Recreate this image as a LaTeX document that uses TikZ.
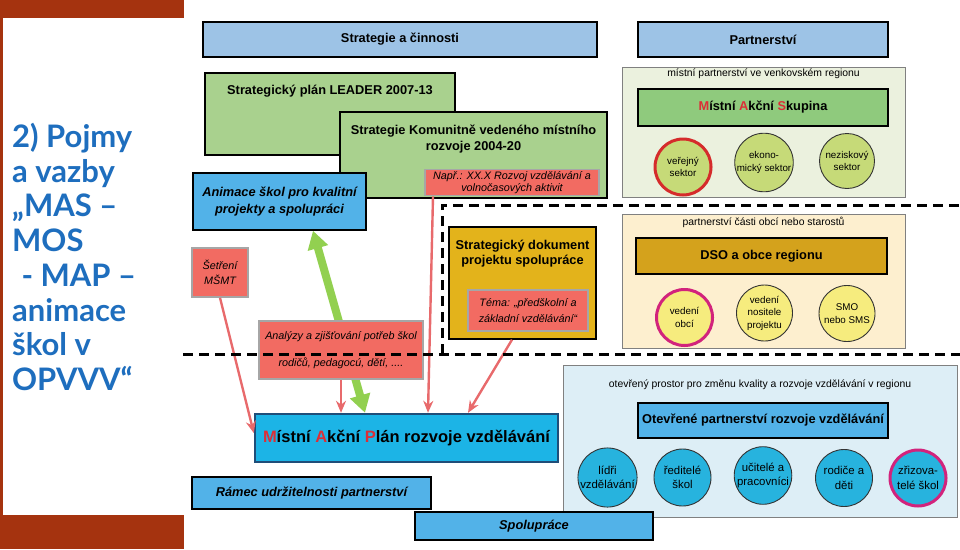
\documentclass[tikz,border=0pt]{standalone}
\usepackage{fontspec}
\setmainfont{Liberation Sans}
\newfontfamily\titlefont{Lato}
\usetikzlibrary{arrows.meta,backgrounds}

\definecolor{rust}{HTML}{A5330F}
\definecolor{titleblue}{HTML}{1E6EBE}
\definecolor{hdrblue}{HTML}{9DC3E6}
\definecolor{leafgreen}{HTML}{A9D18E}
\definecolor{salmon}{HTML}{F26B62}
\definecolor{skyblue}{HTML}{52B2E8}
\definecolor{gold}{HTML}{E3B31B}
\definecolor{cyanmap}{HTML}{1CB4E6}
\definecolor{mapborder}{HTML}{1F4E79}
\definecolor{arrowred}{HTML}{E86A6C}
\definecolor{arrowgreen}{HTML}{92D050}
\definecolor{panelgreen}{HTML}{EBF1DE}
\definecolor{panelcream}{HTML}{FDEFCF}
\definecolor{panelblue}{HTML}{DDEEF6}
\definecolor{masgreen}{HTML}{8FCA7D}
\definecolor{dsogold}{HTML}{D4A21C}
\definecolor{olive}{HTML}{C6DA78}
\definecolor{lemon}{HTML}{F6EC7E}
\definecolor{cyancirc}{HTML}{27B3DE}
\definecolor{ringred}{HTML}{D52B2B}
\definecolor{ringpink}{HTML}{D2237C}
\definecolor{letterred}{HTML}{DD2E36}

\newcommand\fsHead{\fontsize{12.8}{15.5}\selectfont\bfseries}
\newcommand\fsNote{\fontsize{10.8}{12.5}\selectfont\itshape}
\newcommand\fsPanel{\fontsize{10.4}{12}\selectfont}
\newcommand\fsRing{\fontsize{9.8}{12.5}\selectfont}
\newcommand\fsRingB{\fontsize{11.4}{14.5}\selectfont}
\newcommand\fsMap{\fontsize{16.5}{19}\selectfont\bfseries}
\newcommand\rd[1]{\textcolor{letterred}{#1}}

\begin{document}
\begin{tikzpicture}[x=1pt,y=-1pt,
  box/.style={draw=black,line width=1.4pt,inner sep=0pt,align=center},
  note/.style={draw=black!35,line width=1.6pt,fill=salmon,inner sep=0pt,align=center,font=\fsNote},
  panel/.style={draw=black!50,line width=0.8pt,inner sep=0pt},
  ring/.style={circle,draw=black!80,line width=0.9pt,inner sep=0pt,align=center},
  redarrow/.style={draw=arrowred,line width=2.4pt,-{Stealth[length=12pt,width=10pt]}},
  divider/.style={draw=black,line width=3pt,dash pattern=on 10pt off 6pt}]
\useasboundingbox (0,0) rectangle (960,549);
\fill[rust] (0,0) rectangle (184,549);
\fill[white] (3,18) rectangle (184,515);

\node[anchor=north west,inner sep=0pt,align=left,text=titleblue,
  font=\titlefont\bfseries\fontsize{31}{34.7}\selectfont] (title) at (12,123)
  {2) Pojmy\\a vazby\\„MAS –\\MOS\\\hspace*{0.3em}- MAP –\\animace\\škol v\\OPVVV“};

\node[box,fill=hdrblue,minimum width=394pt,minimum height=35pt,font=\fsHead] (strat) at (400,39.5) {Strategie a činnosti};
\node[box,fill=hdrblue,minimum width=250pt,minimum height=35pt,font=\fsHead] (partner) at (763,39.5) {Partnerství};

% partnerstvi
\node[panel,fill=panelgreen,minimum width=283pt,minimum height=130pt,
  label={[anchor=center,yshift=-7pt,font=\fsPanel]north:{místní partnerství ve venkovském regionu}}] (rural) at (763.5,132) {};
\node[box,fill=masgreen,minimum width=250pt,minimum height=37pt,font=\fsHead] (mas) at (763,107.5) {\rd{M}ístní \rd{A}kční \rd{S}kupina};
\node[ring,fill=olive,draw=ringred,line width=3pt,minimum size=56pt,font=\fsRing] (verejny) at (683,167) {veřejný\\sektor};
\node[ring,fill=olive,minimum size=56pt,font=\fsRing] (ekonom) at (764,162.5) {ekono-\\mický sektor};
\node[ring,fill=olive,minimum size=55pt,font=\fsRing] (nezisk) at (847,161) {neziskový\\sektor};

\node[panel,fill=panelcream,minimum width=283pt,minimum height=134pt,
  label={[anchor=center,yshift=-9pt,font=\fsPanel]north:{partnerství části obcí nebo starostů}}] (obce) at (763.5,281) {};
\node[box,fill=dsogold,minimum width=251pt,minimum height=36pt,font=\fsHead] (dso) at (761.5,256) {DSO a obce regionu};
\node[ring,fill=lemon,draw=ringpink,line width=3pt,minimum size=56pt,font=\fsRing] (vedobci) at (684.5,317.5) {vedení\\obcí};
\node[ring,fill=lemon,minimum size=56pt,font=\fsRing] (nositel) at (764.5,313) {vedení\\nositele\\projektu};
\node[ring,fill=lemon,minimum size=56pt,font=\fsRing] (smo) at (847,313.5) {SMO\\nebo SMS};

\node[panel,fill=panelblue,minimum width=394pt,minimum height=152pt,
  label={[anchor=center,yshift=-20pt,font=\fsPanel]north:{otevřený prostor pro změnu kvality a rozvoje vzdělávání v regionu}}] (prostor) at (760,441) {};
\node[box,fill=skyblue,minimum width=250pt,minimum height=35pt,font=\fsHead] (oprv) at (763,420.5) {Otevřené partnerství rozvoje vzdělávání};
\node[ring,fill=cyancirc,minimum size=57pt,font=\fsRingB] (lidri) at (607.5,477.5) {lídři\\vzdělávání};
\node[ring,fill=cyancirc,minimum size=57pt,font=\fsRingB] (reditele) at (682.5,477.5) {ředitelé\\škol};
\node[ring,fill=cyancirc,minimum size=57pt,font=\fsRingB] (ucitele) at (763,475.5) {učitelé a\\pracovníci};
\node[ring,fill=cyancirc,minimum size=57pt,font=\fsRingB] (rodice) at (844,478) {rodiče a\\děti};
\node[ring,fill=cyancirc,draw=ringpink,line width=3pt,minimum size=56pt,font=\fsRingB] (zrizov) at (918,478) {zřizova-\\telé škol};

% strategie
\node[box,fill=leafgreen,minimum width=250pt,minimum height=82pt,
  label={[anchor=center,yshift=-19pt,font=\fsHead]north:{Strategický plán LEADER 2007-13}}] (leader) at (330,114) {};
\node[box,fill=leafgreen,minimum width=267pt,minimum height=86pt,
  label={[anchor=center,yshift=-27.5pt,font=\fsHead,align=center]north:{Strategie Komunitně vedeného místního\\rozvoje 2004-20}}] (clld) at (473.5,155) {};
\node[note,minimum width=174pt,minimum height=26pt] (napr) at (512,182.5) {Např.: XX.X Rozvoj vzdělávání a\\volnočasových aktivit};
\node[box,fill=skyblue,minimum width=173pt,minimum height=57pt,font=\fsHead\itshape] (animace) at (279.5,201.5) {Animace škol pro kvalitní\\[1.5pt]projekty a spolupráci};
\node[note,minimum width=56pt,minimum height=49pt] (setreni) at (220,272.5) {Šetření\\[2.5pt]MŠMT};
\node[note,minimum width=164pt,minimum height=58pt] (analyzy) at (341,350) {Analýzy a zjišťování potřeb škol\\[14pt]rodičů, pedagocú, dětí, ....};
\node[box,fill=gold,minimum width=147pt,minimum height=112pt,
  label={[anchor=center,yshift=-27.5pt,font=\fsHead,align=center]north:{Strategický dokument\\projektu spolupráce}}] (dok) at (522.5,283) {};
\node[note,minimum width=120pt,minimum height=41pt] (tema) at (528,310.5) {Téma: „předškolní a\\[3pt]základní vzdělávání“};

\node[box,draw=mapborder,line width=2.4pt,fill=cyanmap,minimum width=303pt,minimum height=48pt,font=\fsMap] (map) at (406.5,438) {\rd{M}ístní \rd{A}kční \rd{P}lán rozvoje vzdělávání};
\node[box,fill=skyblue,minimum width=239pt,minimum height=32pt,font=\fsHead\itshape] (ramec) at (311.5,493) {Rámec udržitelnosti partnerství};
\node[box,fill=skyblue,minimum width=238pt,minimum height=28pt,font=\fsHead\itshape] (spoluprace) at (534,526) {Spolupráce};

\begin{scope}[on background layer]
\draw[line width=8pt,arrowgreen,{Triangle[length=18pt,width=20pt]}-{Triangle[length=18pt,width=20pt]}]
  ([xshift=33.5pt]animace.south) -- ([xshift=-41.5pt]map.north);
\end{scope}

\draw[redarrow] (setreni.south) -- ([yshift=5pt]map.west);
\draw[redarrow] (analyzy.south) -- (analyzy.south |- map.north);
\draw[redarrow] ([xshift=-79pt]napr.south) -- ([xshift=21.5pt]map.north);
\draw[redarrow] ([xshift=-10.5pt]dok.south) -- ([xshift=61.5pt]map.north);

\coordinate (dl) at (183,354);
\coordinate (dr) at (960,354);
\coordinate (dc) at (442,354);
\coordinate (dt) at (442,205);
\coordinate (dtr) at (960,205);
\draw[divider] (dl) -- (dr);
\draw[divider] (dc) -- (dt) -- (dtr);
\end{tikzpicture}
\end{document}
